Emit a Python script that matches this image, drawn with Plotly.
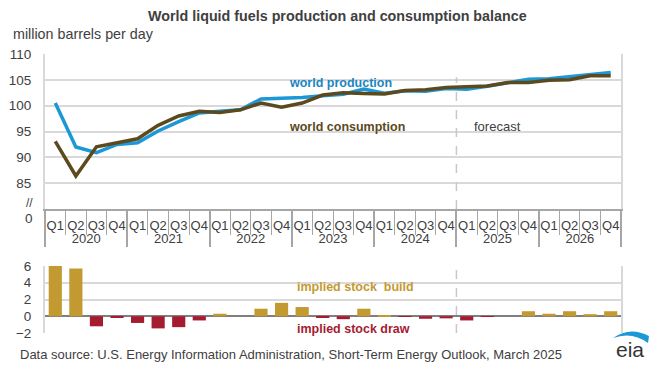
import plotly.graph_objects as go

# ---------------- data ----------------
years = ["2020", "2021", "2022", "2023", "2024", "2025", "2026"]
quarters = ["Q1", "Q2", "Q3", "Q4"]

production = [100.5, 92.0, 90.9, 92.5,
              92.8, 95.1, 96.9, 98.6,
              98.9, 99.2, 101.3, 101.4,
              101.6, 101.9, 102.2, 103.2,
              102.4, 102.9, 102.8, 103.3,
              103.2, 103.75, 104.5, 105.1,
              105.2, 105.6, 106.05, 106.4]

consumption = [93.1, 86.4, 92.05, 92.8,
               93.6, 96.2, 98.0, 98.9,
               98.7, 99.2, 100.5, 99.7,
               100.5, 102.05, 102.5, 102.35,
               102.25, 102.95, 103.1, 103.5,
               103.7, 103.8, 104.5, 104.5,
               104.9, 105.0, 105.8, 105.8]

stock_change = [6.0, 5.7, -1.2, -0.2,
                -0.8, -1.45, -1.3, -0.5,
                0.3, 0.0, 0.9, 1.6,
                1.1, -0.1, -0.35, 0.9,
                0.15, -0.05, -0.3, -0.25,
                -0.5, -0.05, 0.0, 0.6,
                0.3, 0.6, 0.25, 0.6]

forecast_start = ("2025", "Q1")

yticks_top = [85, 90, 95, 100, 105, 110]
yticks_bottom = [-2, 0, 2, 4, 6]

# ---------------- styling ----------------
BLUE = "#1B98D5"
BROWN = "#5C4A1E"
GOLD = "#C39A31"
RED = "#A51C30"
GRID = "#D9D9D9"
TXT = "#404040"
FONT = "Liberation Sans, Arial, sans-serif"

x_cat = [[y for y in years for q in quarters], [q for y in years for q in quarters]]
n = len(x_cat[0])
f_idx = [i for i in range(n) if (x_cat[0][i], x_cat[1][i]) == forecast_start][0]
x_range = [-0.5, n - 0.5]

# pixel helpers (figure 650x369, plot box 45..621 x 54..333)
L, R, T, B = 45, 29, 54, 36
W, H = 650 - L - R, 369 - T - B
def px(x):
    return (x - L) / W
def py(y):
    return (369 - B - y) / H

top_dom = [py(209), 1.0]
bot_dom = [0.0, py(266)]

fig = go.Figure()
fig.add_trace(go.Scatter(x=x_cat, y=production, mode="lines", name="world production",
                         line=dict(color=BLUE, width=3.5), xaxis="x", yaxis="y"))
fig.add_trace(go.Scatter(x=x_cat, y=consumption, mode="lines", name="world consumption",
                         line=dict(color=BROWN, width=3.5), xaxis="x", yaxis="y"))
fig.add_trace(go.Bar(x=x_cat, y=stock_change,
                     marker=dict(color=[GOLD if v >= 0 else RED for v in stock_change], line=dict(width=0)),
                     xaxis="x2", yaxis="y2"))

fig.update_layout(
    template="none",
    width=650, height=369,
    margin=dict(l=L, r=R, t=T, b=B, autoexpand=False),
    paper_bgcolor="white", plot_bgcolor="white",
    showlegend=False,
    bargap=0.36,
    font=dict(family=FONT, size=13, color=TXT),
    xaxis=dict(type="multicategory", domain=[0, 1], anchor="y", automargin=False,
               range=x_range,
               showline=True, linecolor="#A6A6A6", linewidth=1.5,
               ticks="outside", tickson="boundaries", ticklen=24, tickcolor="#A6A6A6",
               tickangle=0, ticklabelstandoff=4,
               showdividers=True, dividercolor="#A6A6A6", dividerwidth=1.5,
               tickfont=dict(size=13, color=TXT), showgrid=False, zeroline=False),
    yaxis=dict(domain=top_dom, anchor="x", range=[80, 110], tickvals=yticks_top,
               automargin=False, ticklabelstandoff=9,
               showgrid=True, gridcolor=GRID, gridwidth=2,
               showline=True, linecolor=GRID, linewidth=2, mirror=True,
               ticks="", tickfont=dict(size=13.5, color=TXT), zeroline=False),
    xaxis2=dict(type="multicategory", domain=[0, 1], anchor="y2", showticklabels=False,
                automargin=False, range=x_range,
                showdividers=False, ticks="", showgrid=False, showline=False, zeroline=False),
    yaxis2=dict(domain=bot_dom, anchor="x2", range=[-2, 6], tickvals=yticks_bottom,
                automargin=False, ticklabelstandoff=9,
                showgrid=True, gridcolor=GRID, gridwidth=2,
                showline=True, linecolor=GRID, linewidth=2, mirror=True,
                zeroline=True, zerolinecolor="#7F7F7F", zerolinewidth=2,
                ticks="", tickfont=dict(size=13.5, color=TXT)),
)

xf = f_idx / n
fig.add_shape(type="line", xref="paper", yref="y", x0=xf, x1=xf, y0=80, y1=105.5,
              line=dict(color="#C8C8C8", width=1.5, dash="dash"))
fig.add_shape(type="line", xref="paper", yref="y2", x0=xf, x1=xf, y0=-2, y1=6,
              line=dict(color="#C8C8C8", width=1.5, dash="dash"))

def ann(text, x, y, size=13, color=TXT, bold=False, xanchor="left"):
    fig.add_annotation(text=f"<b>{text}</b>" if bold else text, xref="paper", yref="paper",
                       x=px(x), y=py(y), xanchor=xanchor, yanchor="middle", showarrow=False,
                       font=dict(size=size, color=color, family=FONT))

ann("World liquid fuels production and consumption balance", 337, 16, size=14.3, bold=True, xanchor="center")
ann("million barrels per day", 11, 34, size=14.3)
ann("world production", 287, 83, size=12.5, color="#1A86C0", bold=True)
ann("world consumption", 287, 127, size=12.5, color=BROWN, bold=True)
ann("forecast", 472, 126, size=13)
ann("implied stock  build", 295, 287, size=12.5, color=GOLD, bold=True)
ann("implied stock draw", 295, 329, size=12.5, color=RED, bold=True)
ann("//", 35, 203, size=12, xanchor="right")
ann("0", 35, 218, size=13.5, xanchor="right")
ann("Data source: U.S. Energy Information Administration, Short-Term Energy Outlook, March 2025", 18, 354, size=13)
ann("eia", 630, 349, size=21, color="#333333", xanchor="center")

# eia swoosh
def P(x, y):
    return f"{px(x):.4f},{py(y):.4f}"
path = (f"M {P(613,338)} Q {P(630,326)} {P(649,336)} L {P(648,343)} "
        f"Q {P(632,331)} {P(613,338)} Z")
fig.add_shape(type="path", xref="paper", yref="paper", path=path,
              fillcolor="#1B98D5", line=dict(width=0))

fig.write_html("out.html", config={"displayModeBar": False},
               post_script="document.body.style.margin='0';document.body.style.padding='0';")
